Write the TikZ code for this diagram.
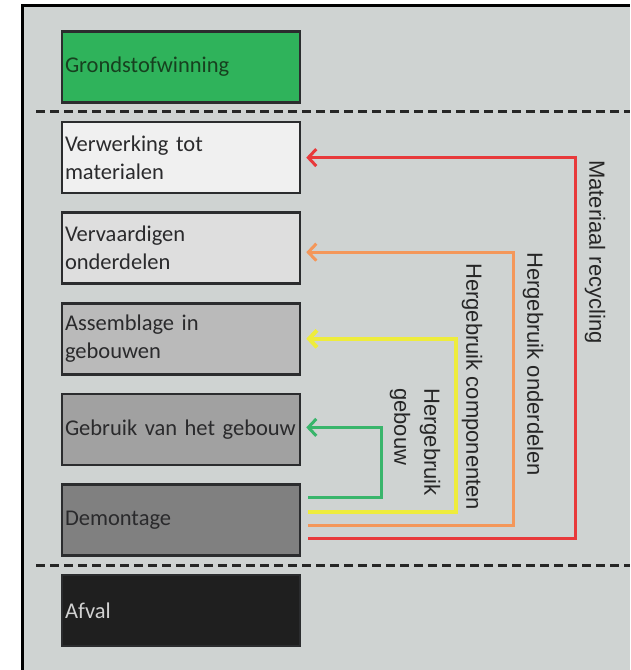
\documentclass[tikz,border=0pt]{standalone}
\usepackage{fontspec}
\setmainfont{Carlito}
\newfontfamily\lusfont{Liberation Sans}
\usepackage{xcolor}
\usepackage{tikz}
\usetikzlibrary{arrows.meta}
\definecolor{achtergrond}{HTML}{CFD3D2}
\definecolor{rand}{HTML}{2B2C2E}
\definecolor{groen}{HTML}{2FB35B}
\definecolor{donkergroen}{HTML}{17401F}
\definecolor{tekst}{HTML}{2A2A2C}
\definecolor{lusrood}{HTML}{E8393B}
\definecolor{lusoranje}{HTML}{F4975A}
\definecolor{lusgeel}{HTML}{EEEC3C}
\definecolor{lusgroen}{HTML}{39B56B}
\tikzstyle{fase} = [rectangle, minimum width=238pt, minimum height=71pt, text width=232pt, inner sep=3pt, align=left, draw=rand, line width=2.5pt, text=tekst, font=\fontsize{22.5}{28}\selectfont]
\tikzstyle{scheiding} = [line width=3pt, dash pattern=on 9pt off 5pt, black!85]
\tikzstyle{terug} = [line width=3pt, -{Straight Barb[length=8pt,width=17pt]}, shorten >=5pt, shorten <=7pt]
\tikzstyle{lustekst} = [rotate=-90, anchor=west, inner sep=0pt, align=left, text=black!85, font=\lusfont\fontsize{22}{30}\selectfont]

\begin{document}
\begin{tikzpicture}[x=1pt, y=-1pt, node distance=90.6pt]
   \useasboundingbox (0,0) rectangle (630,670);
   \fill[achtergrond] (22,5) rectangle (630,670);
   \draw[line width=3pt] (22,670) -- (22,5) -- (630,5);
   % fasen
   \node (gw) [fase, fill=groen, text=donkergroen] at (181,67) {Grondstofwinning};
   \node (vm) [fase, fill=black!6, below of=gw] {Verwerking tot\\materialen};
   \node (vo) [fase, fill=black!13, below of=vm] {Vervaardigen\\onderdelen};
   \node (ag) [fase, fill=black!27, below of=vo] {Assemblage in\\gebouwen};
   \node (gg) [fase, fill=black!37, below of=ag] {\mbox{Gebruik van het gebouw}};
   \node (dm) [fase, fill=black!50, below of=gg] {Demontage};
   \node (af) [fase, fill=black!88, text=black!18, below of=dm] {Afval};
   \draw [scheiding] (36,111) -- (630,111);
   \draw [scheiding] (36,565) -- (630,565);
   % kringlopen
   \draw [terug, lusrood] ([yshift=-18.5pt]dm.east) -- ++(274,0) |- (vm.east);
   \draw [terug, lusoranje] ([yshift=-5.5pt]dm.east) -- ++(212,0) |- ([yshift=-4pt]vo.east);
   \draw [terug, lusgeel, line width=4pt] ([yshift=8.5pt]dm.east) -- ++(155,0) |- (ag.east);
   \draw [terug, lusgroen] ([yshift=22.5pt]dm.east) -- ++(80,0) |- ([yshift=2pt]gg.east);
   \node (mr) [lustekst] at (595,160) {Materiaal recycling};
   \node (ho) [lustekst] at (533,252) {Hergebruik onderdelen};
   \node (hc) [lustekst] at (472,263) {Hergebruik componenten};
   \node (hg) [lustekst] at (415,388) {Hergebruik\\gebouw};
\end{tikzpicture}
\end{document}
